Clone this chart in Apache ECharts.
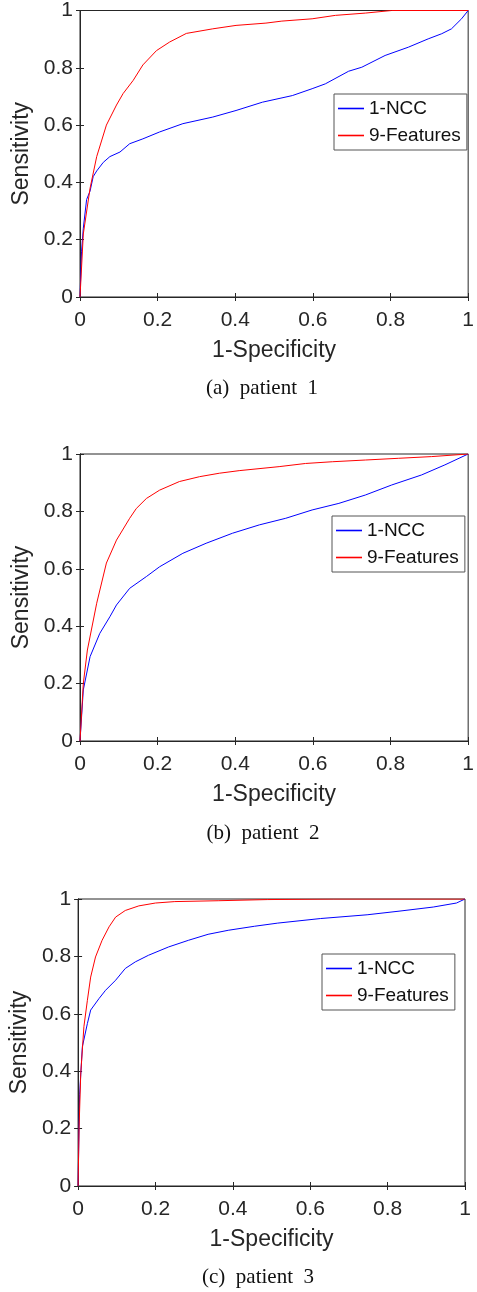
<!DOCTYPE html>
<html>
<head>
<meta charset="utf-8">
<script src="https://cdn.jsdelivr.net/npm/echarts@6/dist/echarts.min.js"></script>
<style>
html,body{margin:0;padding:0;background:#fff;}
#chart{width:477px;height:1292px;}
</style>
</head>
<body>
<div id="chart"></div>
<script>
// ---- Data ----
const seriesNames = ['1-NCC', '9-Features'];
const captions = ['(a)  patient  1', '(b)  patient  2', '(c)  patient  3'];
const xTicks = [0, 0.2, 0.4, 0.6, 0.8, 1];
const yTicks = [0, 0.2, 0.4, 0.6, 0.8, 1];

// Patient 1
const p1NccX = [0, 0.004, 0.0085, 0.017, 0.026, 0.034, 0.043, 0.06, 0.077, 0.103, 0.128, 0.162, 0.205, 0.265, 0.342, 0.402, 0.47, 0.547, 0.598, 0.632, 0.692, 0.726, 0.786, 0.846, 0.897, 0.932, 0.957, 0.983, 1];
const p1NccY = [0, 0.16, 0.24, 0.34, 0.37, 0.42, 0.44, 0.47, 0.49, 0.506, 0.535, 0.552, 0.576, 0.605, 0.628, 0.651, 0.68, 0.703, 0.727, 0.744, 0.788, 0.802, 0.843, 0.872, 0.901, 0.919, 0.936, 0.971, 1];
const p1FeatX = [0, 0.0085, 0.026, 0.043, 0.068, 0.094, 0.111, 0.137, 0.162, 0.197, 0.231, 0.274, 0.342, 0.402, 0.479, 0.52, 0.598, 0.658, 0.735, 0.803, 1];
const p1FeatY = [0, 0.22, 0.38, 0.49, 0.60, 0.67, 0.71, 0.756, 0.81, 0.86, 0.89, 0.92, 0.936, 0.948, 0.956, 0.963, 0.971, 0.983, 0.991, 1, 1];

// Patient 2
const p2NccX = [0, 0.0085, 0.026, 0.051, 0.077, 0.094, 0.128, 0.171, 0.205, 0.265, 0.325, 0.393, 0.462, 0.53, 0.598, 0.667, 0.735, 0.803, 0.88, 0.94, 1];
const p2NccY = [0, 0.178, 0.294, 0.375, 0.433, 0.474, 0.532, 0.573, 0.607, 0.654, 0.689, 0.724, 0.753, 0.776, 0.805, 0.828, 0.857, 0.892, 0.927, 0.962, 1];
const p2FeatX = [0, 0.0085, 0.019, 0.043, 0.068, 0.094, 0.128, 0.145, 0.171, 0.205, 0.256, 0.308, 0.359, 0.41, 0.513, 0.581, 0.65, 0.735, 0.82, 0.906, 1];
const p2FeatY = [0, 0.20, 0.317, 0.48, 0.62, 0.70, 0.776, 0.81, 0.845, 0.874, 0.904, 0.921, 0.933, 0.942, 0.956, 0.967, 0.973, 0.979, 0.985, 0.991, 1];

// Patient 3
const p3NccX = [0, 0.0017, 0.004, 0.011, 0.024, 0.0325, 0.054, 0.071, 0.097, 0.122, 0.148, 0.182, 0.234, 0.285, 0.336, 0.388, 0.456, 0.516, 0.627, 0.747, 0.832, 0.918, 0.978, 1];
const p3NccY = [0, 0.15, 0.32, 0.485, 0.566, 0.613, 0.653, 0.682, 0.717, 0.758, 0.781, 0.804, 0.833, 0.856, 0.877, 0.891, 0.905, 0.916, 0.932, 0.945, 0.958, 0.972, 0.986, 1];
const p3FeatX = [0, 0.0026, 0.0068, 0.015, 0.024, 0.0325, 0.045, 0.062, 0.08, 0.097, 0.122, 0.157, 0.2, 0.25, 0.362, 0.49, 0.66, 1];
const p3FeatY = [0, 0.206, 0.39, 0.555, 0.647, 0.728, 0.798, 0.856, 0.903, 0.937, 0.96, 0.976, 0.986, 0.991, 0.994, 0.998, 1, 1];

const panelsData = [
  [[p1NccX, p1NccY], [p1FeatX, p1FeatY]],
  [[p2NccX, p2NccY], [p2FeatX, p2FeatY]],
  [[p3NccX, p3NccY], [p3FeatX, p3FeatY]]
];

// ---- Layout ----
const grids = [
  {left: 80, top: 10, width: 390, height: 287},
  {left: 80, top: 454, width: 390, height: 287},
  {left: 76, top: 899, width: 389, height: 287}
];
const legendPos = [
  {left: 334, top: 94},
  {left: 332, top: 516},
  {left: 322, top: 954}
];
const captionPos = [
  {x: 262, y: 388},
  {x: 263, y: 833},
  {x: 258, y: 1277}
];
const colors = ['#0000ff', '#ff0000'];
const axisColor = '#262626';
const sans = 'Liberation Sans, Arial, sans-serif';

const zip = (xs, ys) => xs.map((x, i) => [x, ys[i]]);

const option = {
  animation: false,
  backgroundColor: '#fff',
  color: colors,
  grid: grids.map(g => Object.assign({show: true, borderColor: axisColor, borderWidth: 1, backgroundColor: 'transparent'}, g)),
  xAxis: [],
  yAxis: [],
  series: [],
  legend: []
};

grids.forEach((g, i) => {
  const common = {
    gridIndex: i, type: 'value', min: 0, max: 1, interval: 0.2,
    axisLine: {show: true, lineStyle: {color: axisColor, width: 1}},
    axisTick: {show: true, inside: true, length: 4, lineStyle: {color: axisColor, width: 1}},
    splitLine: {show: false}
  };
  option.xAxis.push(Object.assign({}, common, {
    position: 'bottom',
    name: '1-Specificity', nameLocation: 'middle', nameGap: 42,
    nameTextStyle: {fontFamily: sans, fontSize: 23, color: axisColor},
    axisLabel: {fontFamily: sans, fontSize: 21, color: axisColor, margin: 13,
      formatter: v => String(+v.toFixed(1))}
  }));
  option.xAxis.push(Object.assign({}, common, {
    position: 'top', axisLabel: {show: false}
  }));
  option.yAxis.push(Object.assign({}, common, {
    position: 'left',
    name: 'Sensitivity', nameLocation: 'middle', nameGap: 35,
    nameTextStyle: {fontFamily: sans, fontSize: 23, color: axisColor},
    axisLabel: {fontFamily: sans, fontSize: 21, color: axisColor, margin: 7,
      formatter: v => String(+v.toFixed(1))}
  }));
  option.yAxis.push(Object.assign({}, common, {
    position: 'right', axisLabel: {show: false}
  }));

  panelsData[i].forEach((d, s) => {
    option.series.push({
      name: seriesNames[s], type: 'line',
      xAxisIndex: i * 2, yAxisIndex: i * 2,
      data: zip(d[0], d[1]),
      symbol: 'none', showSymbol: false, smooth: false,
      lineStyle: {color: colors[s], width: 1},
      itemStyle: {color: colors[s]},
      clip: true, z: 3
    });
  });

  option.legend.push({
    orient: 'vertical',
    left: legendPos[i].left, top: legendPos[i].top,
    data: seriesNames.map((n, s) => ({
      name: n,
      icon: 'path://M0,0L26,0L26,1.6L0,1.6Z',
      itemStyle: {color: colors[s], borderWidth: 0}
    })),
    symbolKeepAspect: true,
    backgroundColor: '#fff',
    borderColor: '#555', borderWidth: 1, borderRadius: 0,
    padding: [5, 6, 5, 4],
    itemWidth: 26, itemHeight: 14, itemGap: 8,
    selectedMode: false,
    textStyle: {fontFamily: sans, fontSize: 19, color: '#111', lineHeight: 19}
  });
});

option.graphic = captions.map((c, i) => ({
  type: 'text',
  x: captionPos[i].x, y: captionPos[i].y,
  style: {
    text: c, align: 'center', verticalAlign: 'middle',
    font: '21px "Liberation Serif", "Times New Roman", serif',
    fill: '#111'
  }
}));

const chart = echarts.init(document.getElementById('chart'), null, {renderer: 'canvas'});
chart.setOption(option);
</script>
</body>
</html>
